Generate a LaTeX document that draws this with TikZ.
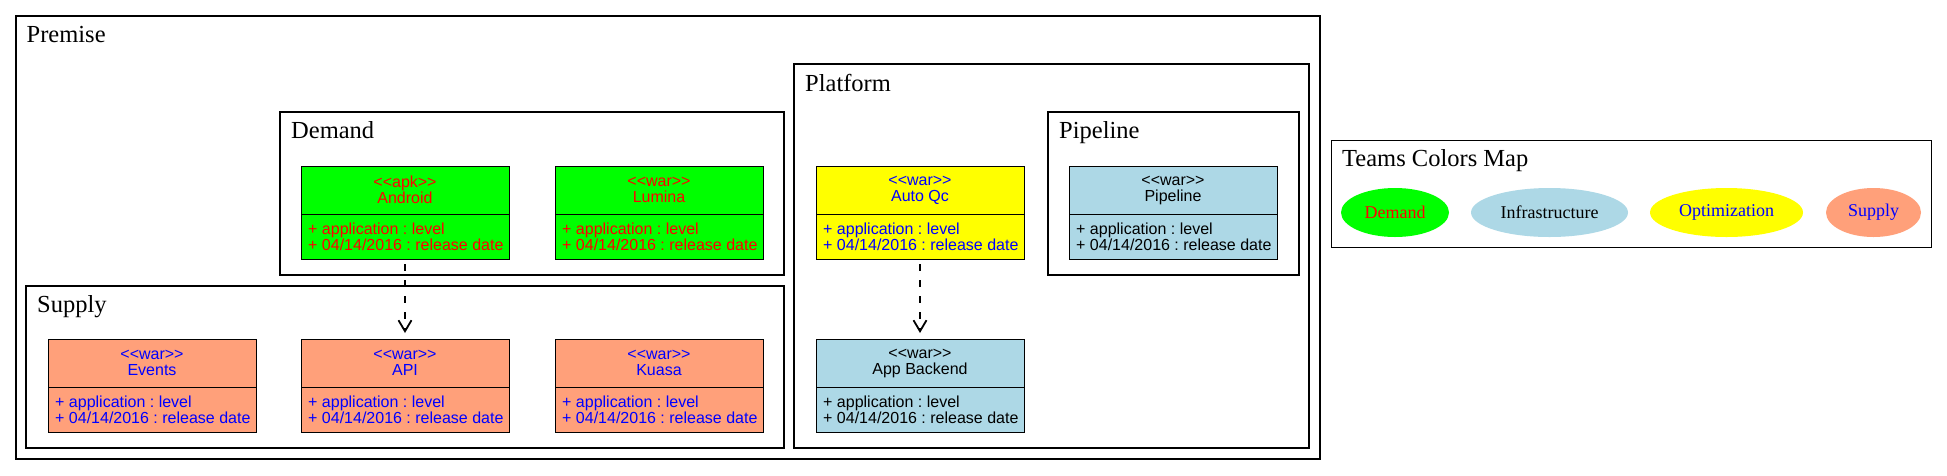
\documentclass[tikz,border=0pt]{standalone}
\usepackage{fontspec}
\setmainfont{Liberation Serif}
\newfontfamily\clsfont{Liberation Sans}
\usetikzlibrary{arrows.meta,shapes.geometric}
\frenchspacing
\definecolor{dgreen}{HTML}{00FF00}
\definecolor{dsalmon}{HTML}{FFA07A}
\definecolor{dlblue}{HTML}{ADD8E6}
\definecolor{dyellow}{HTML}{FFFF00}
\definecolor{dred}{HTML}{FF0000}
\definecolor{dblue}{HTML}{0000FF}
\newcommand\stopen{<\kern0pt<}
\newcommand\stclose{>\kern0pt>}
\tikzset{
 cluster/.style={draw, line width=2pt, anchor=north west, inner sep=0pt, outer sep=0pt},
 clusterlabel/.style={anchor=base west, inner sep=0pt, font=\fontsize{24.5}{24.5}\selectfont},
 classbox/.style={draw, line width=1pt, anchor=north west, minimum width=208pt, minimum height=93pt, inner sep=0pt, outer sep=0pt},
 classhead/.style={align=center, inner sep=0pt, font=\clsfont\fontsize{16}{16}\selectfont\frenchspacing},
 classattr/.style={align=left, anchor=west, inner sep=0pt, font=\clsfont\fontsize{16}{16}\selectfont\frenchspacing},
 dep/.style={draw, dash pattern=on 7pt off 9pt, line width=1.2pt, -{Straight Barb[length=11pt,width=13pt,line width=1.8pt]}, shorten <=5pt, shorten >=6pt},
 team/.style={ellipse, minimum height=49pt, inner sep=0pt, font=\fontsize{18}{18}\selectfont},
}
\newcommand\umlclass[7]{%
 \node[classbox, fill=#4] (#1) at (#2,#3) {};
 \draw[line width=1pt] ([yshift=-48pt]#1.north west) -- ([yshift=-48pt]#1.north east);
 \node[classhead, text=#5] (#1-head) at ([yshift=-24pt]#1.north) {\stopen #6\stclose\\#7};
 \node[classattr, text=#5] (#1-attr) at ([xshift=7pt,yshift=-71pt]#1.north west) {+ application : level\\+ 04/14/2016 : release date};
}
\begin{document}
\begin{tikzpicture}[x=1pt,y=-1pt]
\useasboundingbox[fill=white] (0,0) rectangle (1947,475);
% clusters
\node[cluster, minimum width=1304.5pt, minimum height=443pt] (premise) at (15.5,15.5) {};
\node[clusterlabel] (premise-label) at (26.5,42) {Premise};
\node[cluster, minimum width=504.5pt, minimum height=163pt] (demand) at (279.5,112) {};
\node[clusterlabel] (demand-label) at (291,138) {Demand};
\node[cluster, minimum width=758pt, minimum height=162.5pt] (supply) at (26,285.5) {};
\node[clusterlabel] (supply-label) at (37,312) {Supply};
\node[cluster, minimum width=515pt, minimum height=384pt] (platform) at (794,64) {};
\node[clusterlabel] (platform-label) at (805,91) {Platform};
\node[cluster, minimum width=250.5pt, minimum height=163pt] (pipeline) at (1048,112) {};
\node[clusterlabel] (pipeline-label) at (1059,138) {Pipeline};
% classes
\umlclass{android}{301}{166}{dgreen}{dred}{apk}{Android}
\umlclass{lumina}{555}{166}{dgreen}{dred}{war}{Lumina}
\umlclass{events}{48}{339}{dsalmon}{dblue}{war}{Events}
\umlclass{api}{301}{339}{dsalmon}{dblue}{war}{API}
\umlclass{kuasa}{555}{339}{dsalmon}{dblue}{war}{Kuasa}
\umlclass{autoqc}{816}{166}{dyellow}{dblue}{war}{Auto Qc}
\umlclass{appbackend}{816}{339}{dlblue}{black}{war}{App Backend}
\umlclass{pipelinecls}{1069}{166}{dlblue}{black}{war}{Pipeline}
% dependencies
\draw[dep] (android.south) -- (api.north);
\draw[dep] (autoqc.south) -- (appbackend.north);
% legend
\node[cluster, line width=1pt, minimum width=600pt, minimum height=107pt] (legend) at (1331,140) {};
\node[clusterlabel] (legend-label) at (1342,166) {Teams Colors Map};
\node[team, fill=dgreen, text=dred, minimum width=108pt] (tdemand) at (1395,212.5) {Demand};
\node[team, fill=dlblue, text=black, minimum width=157pt] (tinfra) at (1549.5,212.5) {Infrastructure};
\node[team, fill=dyellow, text=dblue, minimum width=153pt] (topt) at (1726.5,212.5) {Optimization};
\node[team, fill=dsalmon, text=dblue, minimum width=95pt] (tsupply) at (1873.5,212.5) {Supply};
\end{tikzpicture}
\end{document}
